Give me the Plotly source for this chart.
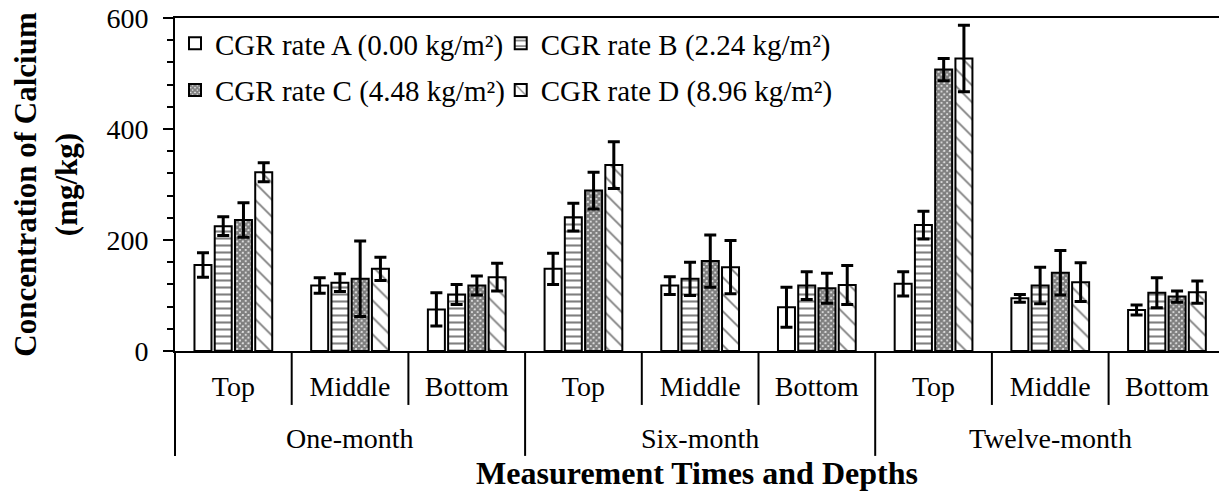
import plotly.graph_objects as go

# ---- data ----
times = ["One-month"] * 3 + ["Six-month"] * 3 + ["Twelve-month"] * 3
depths = ["Top", "Middle", "Bottom"] * 3
time_labels = ["One-month", "Six-month", "Twelve-month"]

rate_a = [155, 118, 75, 148, 118, 79, 121, 95, 74]
rate_a_err = [22, 14, 30, 28, 16, 36, 22, 7, 9]
rate_b = [225, 123, 102, 241, 130, 118, 227, 118, 105]
rate_b_err = [17, 16, 18, 25, 30, 25, 25, 33, 27]
rate_c = [236, 130, 118, 289, 162, 113, 507, 141, 98]
rate_c_err = [31, 68, 17, 33, 47, 27, 20, 40, 10]
rate_d = [322, 148, 133, 335, 151, 119, 527, 124, 106]
rate_d_err = [17, 21, 25, 42, 48, 35, 60, 35, 20]

names = ["CGR rate A (0.00 kg/m²)", "CGR rate B (2.24 kg/m²)",
         "CGR rate C (4.48 kg/m²)", "CGR rate D (8.96 kg/m²)"]

FONT = "Liberation Serif"

cats = [f"{t} | {d}" for t, d in zip(times, depths)]

patterns = [
    dict(shape=""),
    dict(shape="-", size=7, solidity=0.3, fgcolor="black", bgcolor="white"),
    dict(shape="x", size=4, solidity=0.85, fgcolor="black", bgcolor="white"),
    dict(shape="\\", size=12, solidity=0.15, fgcolor="black", bgcolor="white"),
]
legends = ["legend", "legend2", "legend", "legend2"]

fig = go.Figure()
series = [(rate_a, rate_a_err), (rate_b, rate_b_err), (rate_c, rate_c_err), (rate_d, rate_d_err)]
for i, (vals, errs) in enumerate(series):
    fig.add_trace(go.Bar(
        x=cats, y=vals, name=names[i],
        marker=dict(color="white", line=dict(color="black", width=2), pattern=patterns[i]),
        error_y=dict(type="data", array=errs, visible=True, color="black", thickness=3, width=6),
        legend=legends[i], legendgroup=names[i],
    ))

n_cat = len(depths)
# category boundary lines below the axis
shapes = []
for k in range(n_cat):
    b = k + 0.5
    long = (k + 1) % 3 == 0
    shapes.append(dict(type="line", xref="x", yref="paper", x0=b, x1=b, y0=0,
                       y1=-0.315 if long else -0.162,
                       line=dict(color="black", width=2)))
shapes.append(dict(type="line", xref="paper", yref="paper", x0=0, x1=0, y0=0, y1=-0.315,
                   line=dict(color="black", width=2)))

# outer group labels
annotations = []
for g, t in enumerate(time_labels):
    annotations.append(dict(xref="x", yref="paper", x=cats[g * 3 + 1], y=-0.264,
                            text=t, showarrow=False, xanchor="center", yanchor="middle",
                            font=dict(family=FONT, size=28, color="black")))

fig.update_layout(
    width=1219, height=493,
    margin=dict(l=175, r=0, t=18, b=142),
    plot_bgcolor="white", paper_bgcolor="white",
    font=dict(family=FONT, size=28, color="black"),
    barmode="group", bargap=0.306, bargroupgap=0.16,
    shapes=shapes, annotations=annotations,
    showlegend=True,
    legend=dict(x=0.0, y=1.0, xanchor="left", yanchor="top", bgcolor="rgba(0,0,0,0)",
                font=dict(family=FONT, size=29), traceorder="grouped", tracegroupgap=6),
    legend2=dict(x=0.312, y=1.0, xanchor="left", yanchor="top", bgcolor="rgba(0,0,0,0)",
                 font=dict(family=FONT, size=29), traceorder="grouped", tracegroupgap=6),
)

fig.update_xaxes(
    type="category", range=[-0.5, 8.446],
    tickvals=cats, ticktext=depths, ticklabelstandoff=9,
    showline=True, linecolor="black", linewidth=2, mirror=True,
    ticks="", showgrid=False,
    tickfont=dict(family=FONT, size=28),
    title=dict(text="<b>Measurement Times and Depths</b>", font=dict(family=FONT, size=32), standoff=61),
)
fig.update_yaxes(
    range=[0, 600], tickvals=[0, 200, 400, 600],
    showline=True, linecolor="black", linewidth=2, showgrid=False, zeroline=False,
    ticks="outside", ticklen=10, tickwidth=2, tickcolor="black",
    minor=dict(dtick=40, ticks="outside", ticklen=6, tickwidth=2, tickcolor="black"),
    tickfont=dict(family=FONT, size=28), ticklabelstandoff=9,
    title=dict(text="<b>Concentration of Calcium<br>(mg/kg)</b>", font=dict(family=FONT, size=31), standoff=20),
)

fig.write_html("out.html")
